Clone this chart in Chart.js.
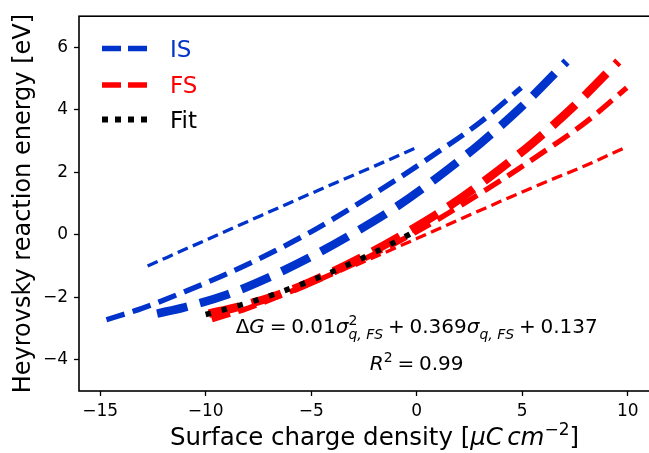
<!DOCTYPE html>
<html><head><meta charset="utf-8">
<script src="https://cdn.jsdelivr.net/npm/chart.js@4.4.1/dist/chart.umd.min.js"></script>
<style>
html,body{margin:0;padding:0;background:#fff;overflow:hidden;width:649px;height:453px}
#wrap{position:absolute;left:0;top:0;width:680px;height:453px}
</style>
</head><body><div id="wrap"><canvas id="c" width="680" height="453"></canvas></div>
<script>
// ---- data ----
const xTicks = [-15, -10, -5, 0, 5, 10];
const yTicks = [-4, -2, 0, 2, 4, 6];

const isThinX  = [-12.75, -10, -8, -6, -4, -2, -0.1];
const isThinY  = [-1.0, -0.17, 0.43, 1.03, 1.62, 2.2, 2.77];
const isMedX   = [-14.7, -13, -11, -9, -7, -5, -3, -1, 1, 3, 4.95];
const isMedY   = [-2.72, -2.35, -1.82, -1.25, -0.61, 0.1, 0.9, 1.75, 2.65, 3.6, 4.71];
const isThickX = [-12.3, -11, -9, -7, -5, -3, -1, 1, 3, 5, 7.1];
const isThickY = [-2.52, -2.32, -1.92, -1.36, -0.7, 0.05, 0.88, 1.85, 2.92, 4.12, 5.55];

const fsThinX  = [-2.9, 0, 2, 4, 6, 8, 9.8];
const fsThinY  = [-0.98, -0.12, 0.48, 1.08, 1.66, 2.22, 2.77];
const fsMedX   = [-9.7, -8, -6, -4, -2, 0, 2, 4, 6, 8, 9.95];
const fsMedY   = [-2.72, -2.35, -1.82, -1.25, -0.61, 0.1, 0.9, 1.75, 2.65, 3.6, 4.71];
const fsThickX = [-9.85, -8.55, -6.55, -4.55, -2.55, -0.55, 1.45, 3.45, 5.45, 7.45, 9.55];
const fsThickY = [-2.52, -2.32, -1.92, -1.36, -0.7, 0.05, 0.88, 1.85, 2.92, 4.12, 5.55];

const fitX = [-10, -9, -8, -7, -6, -5, -4, -3, -2, -1, 0];
const fitY = [-2.55, -2.37, -2.18, -1.96, -1.72, -1.46, -1.18, -0.88, -0.56, -0.22, 0.14];

const legendLabels = ['IS', 'FS', 'Fit'];
const xTitle = 'Surface charge density';
const yTitle = 'Heyrovsky reaction energy [eV]';

// ---- styles ----
const FAM = '"DejaVu Sans", sans-serif';
const BLUE = '#0033cc', RED = '#ff0000', BLACK = '#000000';
const ST = {
  thin:  { w: 3.3, d: [11, 5.5] },
  med:   { w: 5.3, d: [19, 8.5] },
  thick: { w: 8.5, d: [31, 13] }
};

function pts(xs, ys) { return xs.map((x, i) => ({ x: x, y: ys[i] })); }
function ds(label, xs, ys, color, st, order) {
  return {
    label: label, data: pts(xs, ys), borderColor: color, backgroundColor: color,
    borderWidth: st.w, borderDash: st.d, borderCapStyle: 'butt',
    pointRadius: 0, pointHoverRadius: 0, fill: false,
    cubicInterpolationMode: 'monotone', order: order
  };
}
const minus = v => String(v).replace('-', '\u2212');

// draw a run of mixed-font text centred at cx on baseline by
function runs(ctx, items, cx, by) {
  const widthOf = it => {
    if (it.sp !== undefined) return it.sp;
    if (it.stack) {
      let w = 0;
      it.stack.forEach(s => { ctx.font = s.font; w = Math.max(w, ctx.measureText(s.t).width); });
      return w;
    }
    ctx.font = it.font; return ctx.measureText(it.t).width;
  };
  let total = 0; items.forEach(it => total += widthOf(it));
  let x = cx - total / 2;
  ctx.textAlign = 'left'; ctx.textBaseline = 'alphabetic';
  items.forEach(it => {
    const w = widthOf(it);
    if (it.stack) {
      it.stack.forEach(s => { ctx.font = s.font; ctx.fillText(s.t, x, by + s.dy); });
    } else if (it.t !== undefined) {
      ctx.font = it.font; ctx.fillText(it.t, x, by + (it.dy || 0));
    }
    x += w;
  });
}

const decor = {
  id: 'decor',
  afterDraw(chart) {
    const ctx = chart.ctx, a = chart.chartArea;
    ctx.save();
    // frame
    ctx.strokeStyle = BLACK; ctx.lineWidth = 1.6; ctx.setLineDash([]);
    ctx.strokeRect(a.left, a.top, a.right - a.left, a.bottom - a.top);

    // legend
    const lx0 = 102, lx1 = 147, tx = 170;
    const leg = [
      { c: BLUE, w: 5.5, d: [19, 7], y: 48.5, by: 57 },
      { c: RED, w: 5.5, d: [19, 7], y: 85, by: 93 },
      { c: BLACK, w: 6, d: [6, 7], y: 119.5, by: 128 }
    ];
    leg.forEach((l, i) => {
      ctx.beginPath(); ctx.strokeStyle = l.c; ctx.lineWidth = l.w; ctx.lineCap = 'butt';
      ctx.setLineDash(l.d); ctx.moveTo(lx0, l.y); ctx.lineTo(lx1, l.y); ctx.stroke();
      ctx.setLineDash([]);
      ctx.fillStyle = l.c; ctx.font = '23px ' + FAM; ctx.textAlign = 'left'; ctx.textBaseline = 'alphabetic';
      ctx.fillText(legendLabels[i], tx, l.by);
    });

    // equation text
    ctx.fillStyle = BLACK;
    const f = 20, up = f + 'px ' + FAM, it = 'italic ' + f + 'px ' + FAM;
    const sf = Math.round(f * 0.7), smI = 'italic ' + sf + 'px ' + FAM, smU = sf + 'px ' + FAM;
    const sp = f * 0.24;
    const cx = chart.scales.x.getPixelForValue(0);
    runs(ctx, [
      { t: '\u0394', font: up }, { t: 'G', font: it }, { sp: sp }, { t: '=', font: up }, { sp: sp },
      { t: '0.01', font: up }, { t: '\u03c3', font: it },
      { stack: [{ t: '2', font: smU, dy: -f * 0.42 }, { t: 'q, FS', font: smI, dy: f * 0.3 }] },
      { sp: sp }, { t: '+', font: up }, { sp: sp },
      { t: '0.369', font: up }, { t: '\u03c3', font: it },
      { stack: [{ t: 'q, FS', font: smI, dy: f * 0.3 }] },
      { sp: sp }, { t: '+', font: up }, { sp: sp }, { t: '0.137', font: up }
    ], cx, 333);
    runs(ctx, [
      { t: 'R', font: it }, { stack: [{ t: '2', font: smU, dy: -f * 0.42 }] },
      { sp: sp }, { t: '=', font: up }, { sp: sp }, { t: '0.99', font: up }
    ], cx, 370);

    // x axis title
    const F = 24.5, U = F + 'px ' + FAM, I = 'italic ' + F + 'px ' + FAM, S = Math.round(F * 0.7) + 'px ' + FAM;
    runs(ctx, [
      { t: xTitle + ' [', font: U }, { t: '\u03bcC', font: I }, { sp: F * 0.17 }, { t: 'cm', font: I },
      { t: '\u22122', font: S, dy: -F * 0.42 }, { t: ']', font: U }
    ], (a.left + a.right) / 2, 445);
    ctx.restore();
  }
};

new Chart(document.getElementById('c'), {
  type: 'line',
  data: {
    datasets: [
      ds('Fit', fitX, fitY, BLACK, { w: 5.5, d: [5.5, 11] }, 0),
      ds('FS thick', fsThickX, fsThickY, RED, ST.thick, 1),
      ds('IS thick', isThickX, isThickY, BLUE, ST.thick, 1),
      ds('FS', fsMedX, fsMedY, RED, ST.med, 2),
      ds('IS', isMedX, isMedY, BLUE, ST.med, 2),
      ds('FS thin', fsThinX, fsThinY, RED, ST.thin, 3),
      ds('IS thin', isThinX, isThinY, BLUE, ST.thin, 3)
    ]
  },
  options: {
    responsive: false, animation: false, devicePixelRatio: 1,
    layout: { padding: { left: 0, top: 16, right: 10, bottom: 0 } },
    plugins: { legend: { display: false }, tooltip: { enabled: false } },
    scales: {
      x: {
        type: 'linear', position: 'bottom', min: -16, max: 12,
        afterFit(s) { s.height = 62; },
        afterBuildTicks(s) { s.ticks = xTicks.map(v => ({ value: v })); },
        grid: { display: true, drawOnChartArea: false, drawTicks: true, tickLength: 5, tickWidth: 1.3, tickColor: BLACK },
        border: { display: false },
        ticks: { color: BLACK, font: { family: FAM, size: 17 }, padding: 5, maxRotation: 0, callback: v => minus(v) },
        title: { display: false }
      },
      y: {
        type: 'linear', position: 'left', min: -5, max: 7,
        afterFit(s) { s.width = 79; },
        afterBuildTicks(s) { s.ticks = yTicks.map(v => ({ value: v })); },
        grid: { display: true, drawOnChartArea: false, drawTicks: true, tickLength: 5, tickWidth: 1.3, tickColor: BLACK },
        border: { display: false },
        ticks: { color: BLACK, font: { family: FAM, size: 17 }, padding: 6, callback: v => minus(v) },
        title: { display: true, text: yTitle, color: BLACK, font: { family: FAM, size: 24 }, padding: { top: 9, bottom: 0 } }
      }
    }
  },
  plugins: [decor]
});
</script>
</body></html>
